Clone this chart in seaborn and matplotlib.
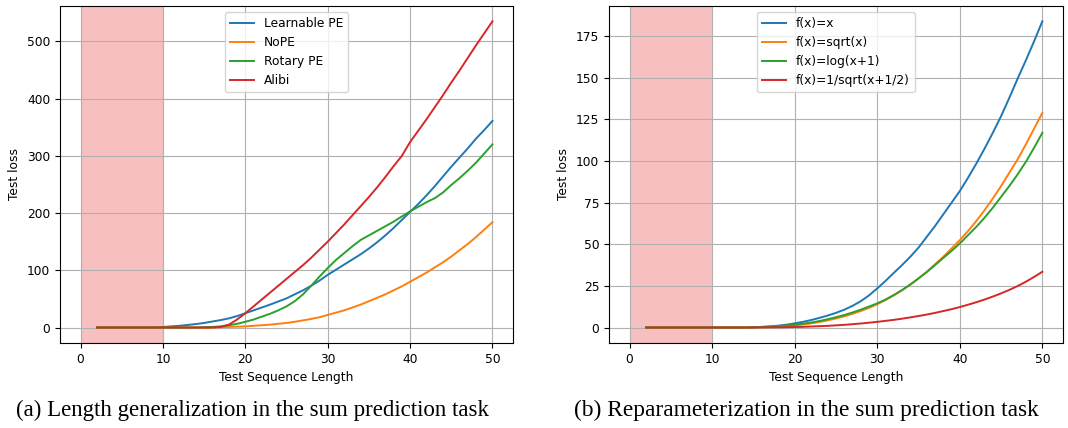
import matplotlib
matplotlib.use("Agg")
import matplotlib.pyplot as plt
import seaborn as sns
import pandas as pd

lengths = list(range(2, 51))

# (a) positional encodings
learnable_pe = [0] * 8 + [1, 2, 3, 4.5, 6, 8, 10.5, 13, 16, 20, 25, 30, 35, 40, 45.5,
                          51, 58, 65, 73, 82, 92, 101, 110, 119, 128, 138, 149, 161, 174,
                          188, 202, 216, 231, 247, 264, 281, 297, 313, 330, 345, 361]
nope = [0] * 14 + [0.3, 0.6, 1, 1.5, 2, 3, 4, 5, 6.5, 8, 10, 12.5, 15, 18, 22,
                   26, 30, 35, 40, 46, 52, 58, 65, 72, 80, 88, 96, 105, 114, 124,
                   135, 146, 158, 171, 184]
rotary_pe = [0] * 13 + [0.5, 1, 2, 4, 6.5, 10, 14, 19, 24, 30, 37, 46, 58, 73, 89, 104,
                        118, 130, 142, 153, 161, 169, 177, 185, 194, 203,
                        211, 219, 226, 236, 249, 261, 274, 288, 304, 320]
alibi = [0] * 15 + [1, 5, 14, 25, 37, 49, 61, 73, 85, 97, 109, 122, 136, 150,
                    165, 180, 196, 212, 228, 245, 263, 282, 300, 324,
                    344, 364, 385, 406, 428, 449, 471, 493, 514, 535]

# (b) reparameterizations
f_x = [0] * 13 + [0.2, 0.4, 0.7, 1.1, 1.7, 2.5, 3.4, 4.5, 5.8, 7.2, 8.8,
                  10.7, 13, 15.8, 19.3, 23.5, 28, 32.8, 37.5, 42.5, 48,
                  54.5, 61, 68, 75, 82, 90, 98.5, 107.5, 117, 127,
                  138, 149.5, 160.5, 172, 184]
f_sqrt = [0] * 13 + [0.1, 0.2, 0.4, 0.6, 0.9, 1.3, 1.8, 2.5, 3.3, 4.3, 5.4,
                     6.7, 8.2, 9.9, 11.8, 14, 16.5, 19.3, 22.4, 25.8, 29.5,
                     33.5, 38, 42.5, 47.5, 52.5, 58, 64, 70.5, 77.5, 85,
                     93, 101, 110, 119.5, 129]
f_log = [0] * 13 + [0.15, 0.3, 0.5, 0.8, 1.2, 1.7, 2.3, 3, 3.9, 5, 6.2,
                    7.5, 9, 10.7, 12.6, 14.5, 16.8, 19.5, 22.5, 25.8, 29.5,
                    33.3, 37.5, 41.8, 46, 50.5, 55.5, 60.5, 66, 72, 78.5,
                    85, 92, 99.5, 108, 117]
f_inv_sqrt = [0] * 13 + [0.02, 0.05, 0.1, 0.15, 0.2, 0.3, 0.4, 0.6, 0.8, 1, 1.3,
                         1.6, 2, 2.4, 2.9, 3.4, 4, 4.6, 5.3, 6.1, 6.9,
                         7.8, 8.8, 9.9, 11, 12.3, 13.7, 15.2, 16.8, 18.6, 20.5,
                         22.6, 24.9, 27.5, 30.4, 33.5]

left_series = {"Learnable PE": learnable_pe, "NoPE": nope,
               "Rotary PE": rotary_pe, "Alibi": alibi}
right_series = {"f(x)=x": f_x, "f(x)=sqrt(x)": f_sqrt,
                "f(x)=log(x+1)": f_log, "f(x)=1/sqrt(x+1/2)": f_inv_sqrt}

plt.rcParams["font.size"] = 8.8
colors = ["#1f77b4", "#ff7f0e", "#2ca02c", "#d62728"]

fig = plt.figure(figsize=(10.68, 4.28), dpi=100)
ax1 = fig.add_axes([0.0562, 0.199, 0.4242, 0.787])
ax2 = fig.add_axes([0.5702, 0.199, 0.4251, 0.787])

for ax, series, yticks in [(ax1, left_series, range(0, 501, 100)),
                           (ax2, right_series, range(0, 176, 25))]:
    ax.axvspan(0, 10, color="lightcoral", alpha=0.5, lw=0, zorder=0)
    for (name, vals), c in zip(series.items(), colors):
        df = pd.DataFrame({"len": lengths, "loss": vals})
        sns.lineplot(data=df, x="len", y="loss", color=c, label=name, lw=1.4, ax=ax)
    ax.set_xticks(range(0, 51, 10))
    ax.set_yticks(list(yticks))
    ax.grid(True, color="#b0b0b0", lw=0.8)
    ax.set_axisbelow(True)
    ax.set_xlabel("Test Sequence Length")
    ax.set_ylabel("Test loss")
    ax.legend(loc="upper center")

fig.text(0.236, 0.042, "(a) Length generalization in the sum prediction task",
         family="Liberation Serif", fontsize=16.5, ha="center", va="center")
fig.text(0.755, 0.042, "(b) Reparameterization in the sum prediction task",
         family="Liberation Serif", fontsize=16.8, ha="center", va="center")

fig.savefig("out.png", dpi=100)
